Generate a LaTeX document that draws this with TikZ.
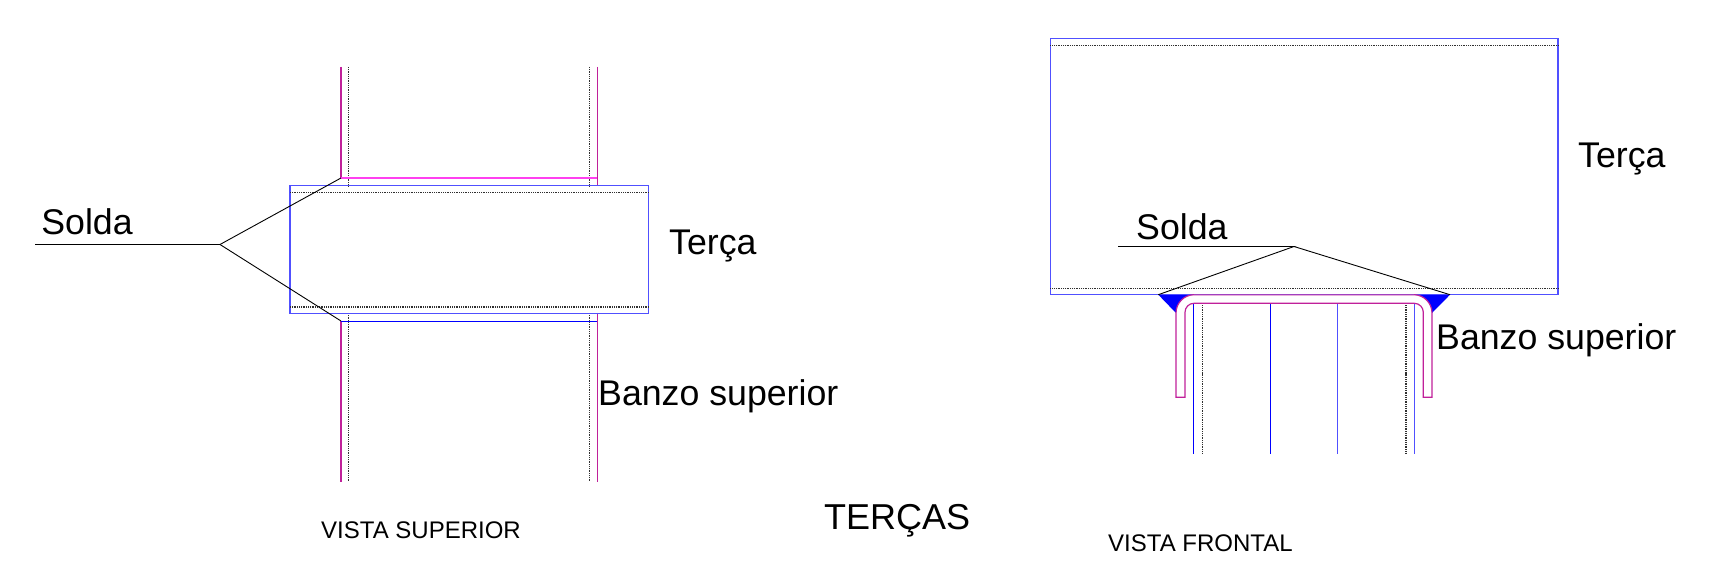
\documentclass[tikz,border=0pt]{standalone}
\usepackage{fontspec}
\setmainfont{Liberation Sans}
\definecolor{cadblue}{HTML}{5050FF}
\definecolor{deepblue}{HTML}{0000FF}
\definecolor{cadmag}{HTML}{C0209A}
\definecolor{brightmag}{HTML}{FF40F0}
\definecolor{dotgrey}{HTML}{303030}
\definecolor{mixpurple}{HTML}{A040C0}
\tikzset{
  beam/.style={draw=cadblue,line width=1.4pt},
  deepline/.style={draw=deepblue,line width=1.2pt},
  chord/.style={draw=cadmag,line width=1.2pt},
  chordtop/.style={draw=brightmag,line width=1.2pt},
  hidden/.style={draw=dotgrey,line width=1.1pt,dash pattern=on 1pt off 0.8pt},
  leader/.style={draw=black,line width=0.9pt},
  weld/.style={fill=deepblue,draw=none},
  lab/.style={anchor=base west,inner sep=0pt,font=\fontsize{35.7}{36}\selectfont},
  caption/.style={anchor=base west,inner sep=0pt,font=\fontsize{24}{24}\selectfont},
}
\begin{document}
\begin{tikzpicture}[x=1pt,y=-1pt]
\useasboundingbox (0,0) rectangle (1719,585);
% --- top view ---
\draw[chord] (341,67) -- (341,178);
\draw[chord] (341,321) -- (341,482);
\draw[hidden] (348.7,67) -- (348.7,186);
\draw[hidden] (348.7,313) -- (348.7,482);
\draw[hidden] (589.3,67) -- (589.3,186);
\draw[hidden] (589.3,313) -- (589.3,482);
\draw[chord] (597.3,67) -- (597.3,186);
\draw[chord] (597.3,313) -- (597.3,482);
\draw[chordtop] (341,178) -- (597.3,178);
\draw[deepline] (341,321.5) -- (597.3,321.5);
\draw[beam] (290,185.7) rectangle (648.7,313.3);
\draw[hidden] (290,192.5) -- (648.7,192.5);
\draw[hidden] (290,307) -- (648.7,307);
\coordinate (ls) at (35,244.5);
\coordinate (lk) at (220,244.5);
\coordinate (lt) at (341,178);
\coordinate (lb) at (341,321);
\draw[leader] (ls) -- (lk) -- (lt);
\draw[leader] (lk) -- (lb);
\node[lab] (solda1) at (41.2,234.6) {Solda};
\node[lab] (terca1) at (669,255) {Terça};
\node[lab] (banzo1) at (598,405.6) {Banzo superior};
\node[caption] (vista1) at (321,538) {VISTA SUPERIOR};
% --- title ---
\node[anchor=base west,inner sep=0pt,font=\fontsize{36}{36}\selectfont] (titulo) at (824,529.5) {TERÇAS};
% --- front view ---
\draw[deepline] (1193.3,303.3) -- (1193.3,454);
\draw[hidden] (1202.7,303.3) -- (1202.7,454);
\draw[deepline] (1270.7,303.3) -- (1270.7,454);
\draw[beam] (1337.3,303.3) -- (1337.3,454);
\draw[hidden] (1406,303.3) -- (1406,454);
\draw[beam] (1414.7,303.3) -- (1414.7,454);
\draw[weld] (1158.3,294.7) -- (1176,313) arc[start angle=180,end angle=270,radius=18.3] -- cycle;
\draw[weld] (1450,294.7) -- (1432,313) arc[start angle=0,end angle=-90,radius=18.3] -- cycle;
\draw[beam] (1050.3,38.3) rectangle (1558,294.7);
\draw[hidden] (1050.3,45.3) -- (1558,45.3);
\draw[hidden] (1050.3,288.3) -- (1558,288.3);
\draw[chord] (1176,313) -- (1176,397.3) -- (1185,397.3) -- (1185,312.3) arc[start angle=180,end angle=270,radius=9] -- (1414.3,303.3) arc[start angle=270,end angle=360,radius=9] -- (1423.3,397.3) -- (1432,397.3) -- (1432,313) arc[start angle=0,end angle=-90,radius=18.3] -- (1194.3,294.7) arc[start angle=270,end angle=180,radius=18.3];
\draw[draw=mixpurple,line width=1.5pt] (1194.3,294.7) -- (1413.7,294.7);
\coordinate (rs) at (1118,246.5);
\coordinate (rk) at (1294,246.5);
\coordinate (rl) at (1158.3,294.7);
\coordinate (rr) at (1450,294.7);
\draw[leader] (rs) -- (rk) -- (rl);
\draw[leader] (rk) -- (rr);
\node[lab] (solda2) at (1136,240) {Solda};
\node[lab] (terca2) at (1578,168) {Terça};
\node[lab] (banzo2) at (1436,349) {Banzo superior};
\node[caption] (vista2) at (1108,551) {VISTA FRONTAL};
\end{tikzpicture}
\end{document}
